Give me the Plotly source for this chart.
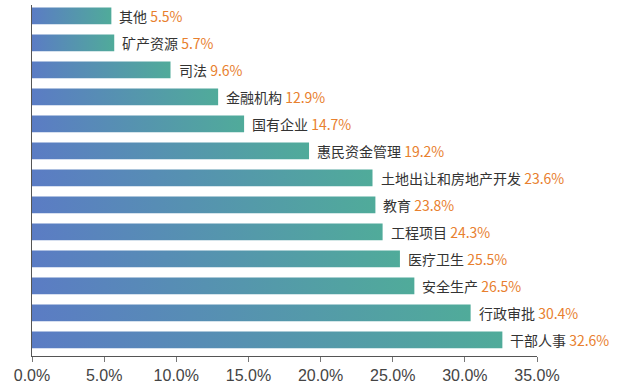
import plotly.graph_objects as go

categories = ["其他", "矿产资源", "司法", "金融机构", "国有企业", "惠民资金管理",
              "土地出让和房地产开发", "教育", "工程项目", "医疗卫生", "安全生产",
              "行政审批", "干部人事"]
values = [5.5, 5.7, 9.6, 12.9, 14.7, 19.2, 23.6, 23.8, 24.3, 25.5, 26.5, 30.4, 32.6]
tick_vals = [0, 5, 10, 15, 20, 25, 30, 35]
tick_text = ["0.0%", "5.0%", "10.0%", "15.0%", "20.0%", "25.0%", "30.0%", "35.0%"]

HALF = 0.31
fig = go.Figure()
for i, (c, v) in enumerate(zip(categories, values)):
    fig.add_trace(go.Scatter(
        x=[0, v, v, 0, 0],
        y=[i - HALF, i - HALF, i + HALF, i + HALF, i - HALF],
        mode="lines", fill="toself", line=dict(width=0),
        fillgradient=dict(type="horizontal",
                          colorscale=[[0, "#5b7cc4"], [1, "#50ab9a"]]),
        hoverinfo="text", text=f"{c} {v}%", showlegend=False,
    ))
    fig.add_annotation(
        x=v, y=i, xref="x", yref="y", xanchor="left", yanchor="middle",
        xshift=6, showarrow=False,
        text=f"{c} <span style='color:#e8802e'>{v}%</span>",
        font=dict(size=14, color="#333333",
                  family="Noto Sans CJK SC, Liberation Sans, Arial"),
    )

fig.update_layout(
    width=638, height=389,
    margin=dict(l=32, r=101, t=5, b=33),
    paper_bgcolor="white", plot_bgcolor="white",
    xaxis=dict(range=[0, 35], tickvals=tick_vals, ticktext=tick_text,
               automargin=False,
               showgrid=False, zeroline=False, showline=True,
               linecolor="#555555", linewidth=1,
               ticks="outside", ticklen=5, tickcolor="#777777",
               tickfont=dict(size=16, color="#444444",
                             family="Liberation Sans, Arial")),
    yaxis=dict(range=[12.6, -0.4], automargin=False, showgrid=False,
               zeroline=False, showline=True, linecolor="#555555",
               linewidth=1, showticklabels=False, ticks=""),
)

fig.write_html("out.html", config={"displayModeBar": False},
               post_script="document.body.style.margin='0';")
